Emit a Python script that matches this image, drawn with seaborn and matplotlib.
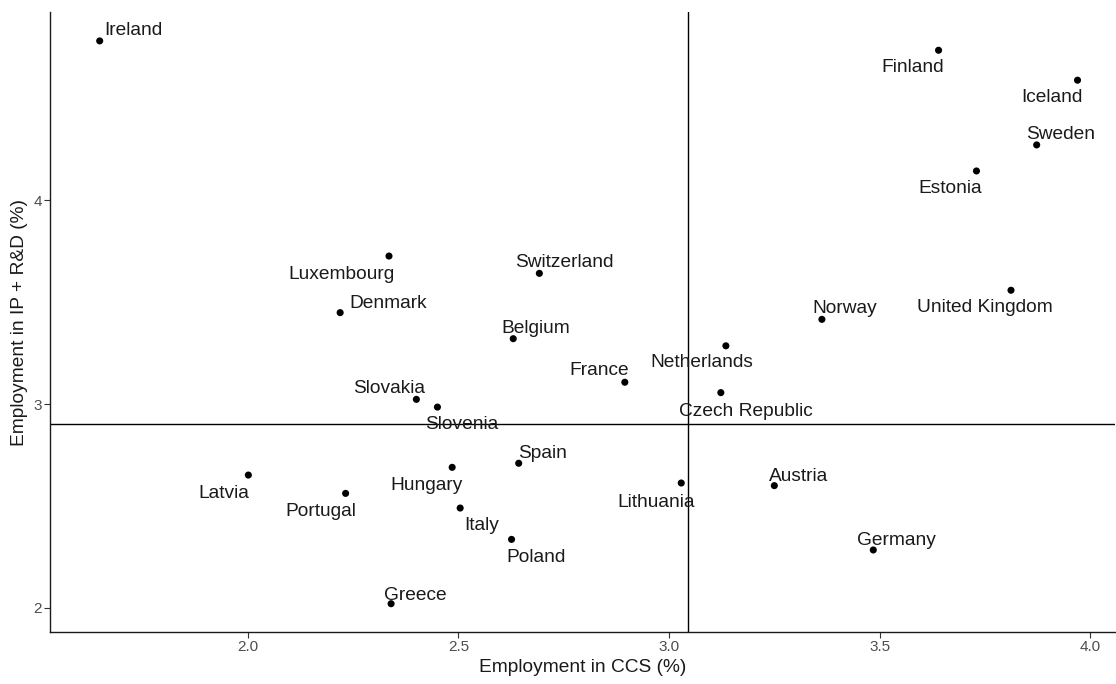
import matplotlib
matplotlib.use("Agg")
import matplotlib.pyplot as plt
import seaborn as sns
import pandas as pd

# Country-level employment shares (%)
countries = [
    "Ireland", "Finland", "Iceland", "Sweden", "Estonia", "Luxembourg",
    "Switzerland", "Denmark", "United Kingdom", "Norway", "Belgium",
    "Netherlands", "France", "Czech Republic", "Slovakia", "Slovenia",
    "Latvia", "Spain", "Hungary", "Lithuania", "Austria", "Portugal",
    "Italy", "Poland", "Germany", "Greece",
]
ccs_share = [
    1.648, 3.640, 3.970, 3.873, 3.730, 2.335,
    2.692, 2.219, 3.812, 3.363, 2.630,
    3.135, 2.895, 3.123, 2.400, 2.450,
    2.001, 2.643, 2.485, 3.029, 3.250, 2.232,
    2.504, 2.626, 3.485, 2.340,
]
ip_rd_share = [
    4.784, 4.738, 4.591, 4.273, 4.145, 3.727,
    3.642, 3.449, 3.559, 3.416, 3.321,
    3.286, 3.107, 3.056, 3.023, 2.985,
    2.651, 2.709, 2.689, 2.612, 2.599, 2.561,
    2.489, 2.335, 2.283, 2.019,
]

# Quadrant dividers
ccs_cut = 3.045
ip_rd_cut = 2.902

x_ticks = [2.0, 2.5, 3.0, 3.5, 4.0]
x_tick_labels = ["2.0", "2.5", "3.0", "3.5", "4.0"]
y_ticks = [2, 3, 4]
y_tick_labels = ["2", "3", "4"]

# Label placement relative to each point, in pixels (right, down)
label_offsets = {
    "Ireland": (34, -12), "Finland": (-26, 16), "Iceland": (-26, 16),
    "Sweden": (24, -12), "Estonia": (-26, 16), "Luxembourg": (-47, 17),
    "Switzerland": (25, -12), "Denmark": (48, -11), "United Kingdom": (-26, 16),
    "Norway": (23, -12), "Belgium": (23, -12), "Netherlands": (-24, 15),
    "France": (-26, -13), "Czech Republic": (25, 17), "Slovakia": (-27, -12),
    "Slovenia": (24, 16), "Latvia": (-25, 17), "Spain": (24, -11),
    "Hungary": (-26, 17), "Lithuania": (-25, 18), "Austria": (24, -11),
    "Portugal": (-25, 17), "Italy": (22, 16), "Poland": (25, 17),
    "Germany": (23, -11), "Greece": (24, -10),
}
# matplotlib centres on the full text box; nudge glyphs onto the visual centre
label_baseline_shift = 1.5

df = pd.DataFrame({"country": countries, "ccs": ccs_share, "iprd": ip_rd_share})

sns.set_theme(style="ticks")
plt.rcParams["font.family"] = ["Liberation Sans", "DejaVu Sans"]

fig = plt.figure(figsize=(11.16, 6.84), dpi=100)
ax = fig.add_axes([50 / 1116, 52 / 684, 1065 / 1116, 620 / 684])

ax.axvline(ccs_cut, color="black", linewidth=1.0, zorder=1)
ax.axhline(ip_rd_cut, color="black", linewidth=1.0, zorder=1)

sns.scatterplot(data=df, x="ccs", y="iprd", ax=ax, color="black",
                s=26, edgecolor="none", zorder=3)

for name, xv, yv in zip(countries, ccs_share, ip_rd_share):
    dx, dy = label_offsets[name]
    ax.annotate(name, (xv, yv), xytext=(dx, -(dy + label_baseline_shift)),
                textcoords="offset pixels", ha="center", va="center",
                fontsize=13.8, color="#1a1a1a", zorder=4)

ax.set_xlim(1.530, 4.059)
ax.set_ylim(1.880, 4.926)
ax.set_xticks(x_ticks)
ax.set_xticklabels(x_tick_labels)
ax.set_yticks(y_ticks)
ax.set_yticklabels(y_tick_labels)

ax.set_xlabel("Employment in CCS (%)", fontsize=13.8, color="#1a1a1a", labelpad=3)
ax.set_ylabel("Employment in IP + R&D (%)", fontsize=13.8, color="#1a1a1a", labelpad=4)

ax.tick_params(axis="both", labelsize=11, labelcolor="#4d4d4d", color="#333333",
               length=4, width=0.8, pad=2)
sns.despine(ax=ax)
for side in ("left", "bottom"):
    ax.spines[side].set_color("#1a1a1a")
    ax.spines[side].set_linewidth(1.0)

fig.savefig("out.png", dpi=100, facecolor="white")
